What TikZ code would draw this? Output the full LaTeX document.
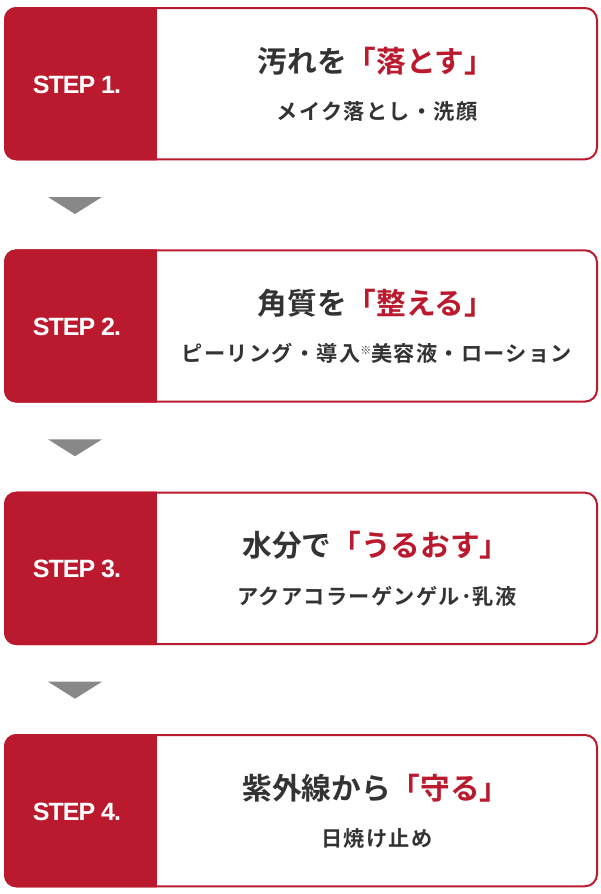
\documentclass[tikz,border=0pt]{standalone}
\usepackage{fontspec}
\usetikzlibrary{calc}
\newfontfamily\jpb{Noto Sans CJK JP Bold}
\newfontfamily\labfont{Liberation Sans Bold}
\definecolor{stepred}{HTML}{BB1A2E}
\definecolor{inkgray}{HTML}{333333}
\definecolor{arrowgray}{HTML}{888888}
\begin{document}
\begin{tikzpicture}[x=1pt,y=-1pt,
  stepbox/.style={draw=stepred, line width=2pt, fill=white, rounded corners=12pt,
    minimum width=592pt, minimum height=151.3pt, anchor=north west, inner sep=0pt},
  steplabel/.style={text=white, font=\labfont\fontsize{25}{25}\selectfont\addfontfeatures{LetterSpace=-4}, anchor=base, inner sep=0pt},
  titletext/.style={text=inkgray, font=\jpb\fontsize{29.7}{29.7}\selectfont, anchor=base, inner sep=0pt},
  subtext/.style={text=inkgray, font=\jpb\fontsize{21.2}{21.2}\selectfont\addfontfeatures{LetterSpace=6}, anchor=base, inner sep=0pt},
  flowarrow/.style={fill=arrowgray}]
\useasboundingbox (0,0) rectangle (600,894);
\fill[white] (0,0) rectangle (600,894);

% boxes
\node[stepbox] (b1) at (4,7) {};
\node[stepbox] (b2) at (4,249.3) {};
\node[stepbox] (b3) at (4,491.7) {};
\node[stepbox] (b4) at (4,734) {};

% red label parts
\foreach \b in {b1,b2,b3,b4}{
  \begin{scope}
    \clip[rounded corners=12pt] (\b.north west) rectangle (\b.south east);
    \fill[stepred] ($(\b.north west)+(-2,-2)$) rectangle ($(\b.south west)+(153,2)$);
  \end{scope}
}

% labels
\node[steplabel] (l1) at ($(b1.north west)+(73,86)$) {STEP 1.};
\node[steplabel] (l2) at ($(b2.north west)+(73,86)$) {STEP 2.};
\node[steplabel] (l3) at ($(b3.north west)+(73,86)$) {STEP 3.};
\node[steplabel] (l4) at ($(b4.north west)+(73,86)$) {STEP 4.};

% titles
\node[titletext] (t1) at ($(b1.north west)+(372,65)$) {汚れを{\color{stepred}「落とす」}};
\node[titletext] (t2) at ($(b2.north west)+(372,65)$) {角質を{\color{stepred}「整える」}};
\node[titletext] (t3) at ($(b3.north west)+(372,65)$) {水分で{\color{stepred}「うるおす」}};
\node[titletext] (t4) at ($(b4.north west)+(372,65)$) {紫外線から{\color{stepred}「守る」}};

% subtitles
\node[subtext] (s1) at ($(b1.north west)+(373,112.5)$) {メイク落とし・洗顔};
\node[subtext] (s2) at ($(b2.north west)+(373,112.5)$) {ピーリング・導入\raisebox{7pt}{\fontsize{11}{11}\selectfont ※}美容液・ローション};
\node[subtext] (s3) at ($(b3.north west)+(373,112.5)$) {アクアコラーゲンゲル･乳液};
\node[subtext] (s4) at ($(b4.north west)+(373,112.5)$) {日焼け止め};

% arrows between steps
\fill[flowarrow] ($(b1.south west)+(44,36.7)$) -- ++(54,0) -- ++(-27,17) -- cycle;
\fill[flowarrow] ($(b2.south west)+(44,36.7)$) -- ++(54,0) -- ++(-27,17) -- cycle;
\fill[flowarrow] ($(b3.south west)+(44,36.7)$) -- ++(54,0) -- ++(-27,17) -- cycle;
\end{tikzpicture}
\end{document}
